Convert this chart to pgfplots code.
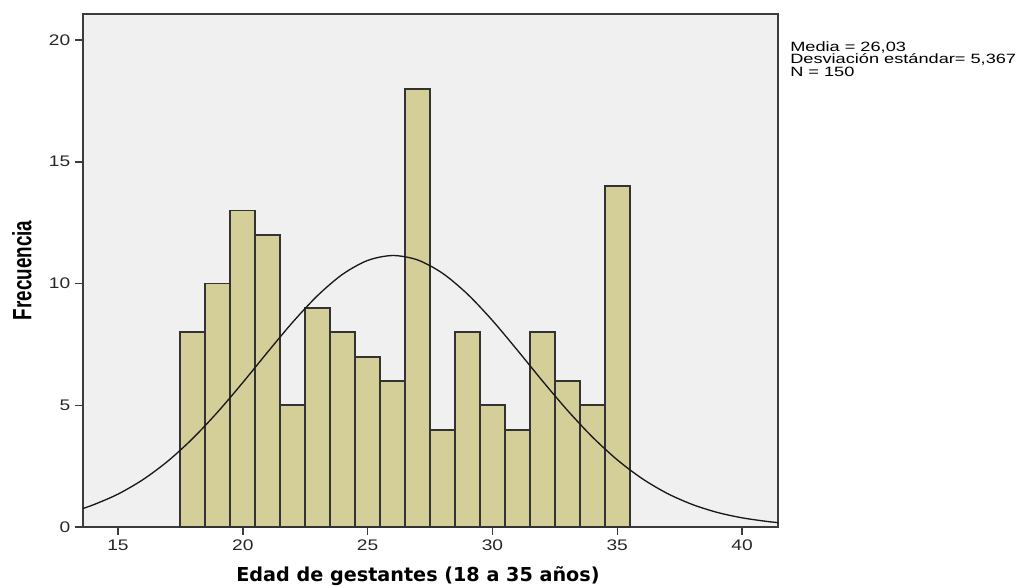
\documentclass[border=0pt]{standalone}
\usepackage{pgfplots}
\pgfplotsset{compat=1.18}
\usepackage{fontspec}
\setmainfont{Liberation Sans}
\newfontfamily\dejavu{DejaVu Sans}

\definecolor{barfill}{RGB}{212,206,152}
\definecolor{panel}{RGB}{240,240,240}
\definecolor{frame}{RGB}{60,60,60}
% SPSS output looks stretched sideways
\newcommand{\wide}[2]{\scalebox{#1}[1]{#2}}

\begin{document}
\begin{tikzpicture}
\useasboundingbox (-62.25pt,-43.5pt) rectangle (702.75pt,395.25pt);
\begin{axis}[
    name=ax,
    at={(0,0)}, anchor=south west,
    scale only axis,
    width=521.25pt, height=384.75pt,
    xmin=13.6, xmax=41.44,
    ymin=0, ymax=21.07,
    xtick={15,20,...,40},
    ytick={0,5,...,20},
    xtick pos=bottom, ytick pos=left,
    tick align=outside,
    major tick length=6pt,
    tick style={frame, line width=1.1pt},
    axis line style={frame, line width=1.1pt},
    axis background/.style={fill=panel},
    /pgf/number format/assume math mode=true,
    xticklabel={\wide{1.25}{\pgfmathprintnumber{\tick}}},
    yticklabel={\wide{1.25}{\pgfmathprintnumber{\tick}}},
    tick label style={font=\fontsize{11.5}{12}\selectfont, text=black!85},
    xlabel={Edad de gestantes (18 a 35 años)},
    ylabel={\wide{0.71}{Frecuencia}},
    every axis x label/.style={at={(axis description cs:0.482,-0.1053)}, anchor=base,
        font=\dejavu\bfseries\fontsize{14.4}{15}\selectfont},
    every axis y label/.style={at={(axis description cs:-0.0878,0.5)}, rotate=90, anchor=center,
        font=\bfseries\fontsize{19.9}{20}\selectfont},
]

% frecuencias por edad (18..35)
\addplot[ybar interval, fill=barfill, draw=black!80, line width=1.4pt] coordinates {
    (17.5,8) (18.5,10) (19.5,13) (20.5,12) (21.5,5) (22.5,9)
    (23.5,8) (24.5,7) (25.5,6) (26.5,18) (27.5,4) (28.5,8)
    (29.5,5) (30.5,4) (31.5,8) (32.5,6) (33.5,5) (34.5,14) (35.5,14)
};

% curva normal ajustada (media 26,03, de 5,367, N 150)
\addplot[smooth, black!90, line width=1pt] coordinates {
    (13.5,0.731) (14,0.905) (15,1.349) (16,1.945) (17,2.707) (18,3.641)
    (19,4.729) (20,5.932) (21,7.188) (22,8.412) (23,9.508) (24,10.381)
    (25,10.947) (26,11.150) (27,10.970) (28,10.423) (29,9.567) (30,8.482)
    (31,7.262) (32,6.005) (33,4.798) (34,3.702) (35,2.759) (36,1.986)
    (37,1.381) (38,0.928) (39,0.601) (40,0.377) (41,0.228) (41.5,0.175)
};
\end{axis}

\node[anchor=north west, inner sep=0pt, align=left, xshift=9pt, yshift=-20.25pt,
      font=\fontsize{10.1}{8.1}\selectfont] at (ax.north east)
    {\wide{1.35}{Media = 26,03}\\
     \wide{1.35}{Desviación estándar= 5,367}\\
     \wide{1.35}{N = 150}};
\end{tikzpicture}
\end{document}
